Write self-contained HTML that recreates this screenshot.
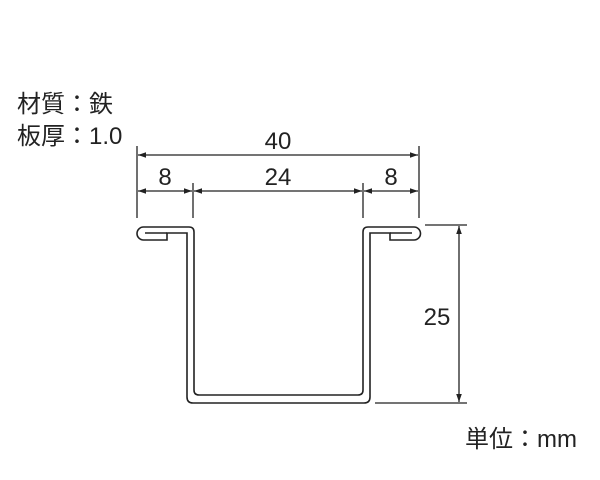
<!DOCTYPE html>
<html><head><meta charset="utf-8"><style>
html,body{margin:0;padding:0;background:#fff;}
svg{display:block;}
text{font-family:"Liberation Sans","Noto Sans CJK JP",sans-serif;fill:#222;}
</style></head><body>
<svg width="600" height="480" viewBox="0 0 600 480" xmlns="http://www.w3.org/2000/svg">
<defs>
<marker id="a" viewBox="0 0 10 10" refX="10" refY="5" markerWidth="8" markerHeight="8" orient="auto-start-reverse" markerUnits="userSpaceOnUse"><path d="M0,1.5 L10,5 L0,8.5 Z" fill="#222"/></marker>
</defs>
<g stroke="#222" stroke-width="1.3" fill="none">
<line x1="137" y1="146" x2="137" y2="218"/>
<line x1="193" y1="183" x2="193" y2="218"/>
<line x1="363" y1="183" x2="363" y2="218"/>
<line x1="419" y1="146" x2="419" y2="218"/>
<line x1="138" y1="155" x2="418" y2="155" marker-start="url(#a)" marker-end="url(#a)"/>
<line x1="138" y1="191" x2="192" y2="191" marker-start="url(#a)" marker-end="url(#a)"/>
<line x1="194" y1="191" x2="362" y2="191" marker-start="url(#a)" marker-end="url(#a)"/>
<line x1="364" y1="191" x2="418" y2="191" marker-start="url(#a)" marker-end="url(#a)"/>
<line x1="425" y1="225" x2="467" y2="225"/>
<line x1="375" y1="403" x2="467" y2="403"/>
<line x1="459" y1="226" x2="459" y2="402" marker-start="url(#a)" marker-end="url(#a)"/>
</g>
<g fill="none" stroke="#222" stroke-width="1.6">
<path d="M167,240 H143.5 A6.5,6.5 0 0 1 143.5,227 H189 Q194,227 194,232 V390 Q194,395 199,395 H358 Q363,395 363,390 V232 Q363,227 368,227 H414 A6.5,6.5 0 0 1 414,240 H390 V233 H370 V397 Q370,403 364,403 H193 Q187,403 187,397 V233 H167 Z"/>
<line x1="145" y1="233" x2="167" y2="233"/>
<line x1="390" y1="233" x2="412" y2="233"/>
</g>
<g font-size="24">
<text x="278" y="149" text-anchor="middle">40</text>
<text x="165" y="185" text-anchor="middle">8</text>
<text x="278" y="185" text-anchor="middle">24</text>
<text x="391" y="185" text-anchor="middle">8</text>
<text x="437" y="325" text-anchor="middle">25</text>
<text x="17" y="112">材質：鉄</text>
<text x="17" y="144">板厚：1.0</text>
<text x="465" y="447">単位：mm</text>
</g>
</svg>
</body></html>
